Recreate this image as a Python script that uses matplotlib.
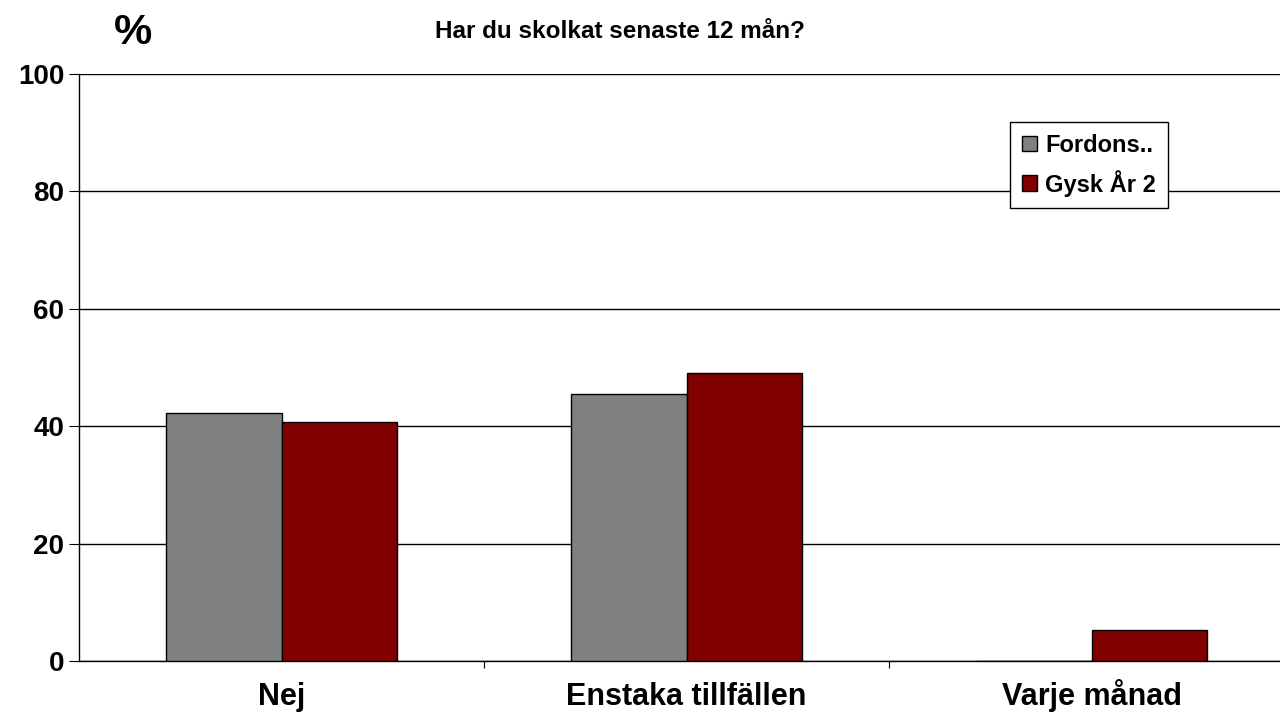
import matplotlib
matplotlib.use("Agg")
import matplotlib.pyplot as plt
import numpy as np

plt.rcParams['font.family'] = ['Liberation Sans', 'DejaVu Sans']
plt.rcParams['font.weight'] = 'bold'

# data
categories = ['Nej', 'Enstaka tillfällen', 'Varje månad']
fordons = [42.3, 45.5, 0]
gysk = [40.7, 49.1, 5.2]
series_names = ['Fordons..', 'Gysk År 2']
yticks = [0, 20, 40, 60, 80, 100]

fig = plt.figure(figsize=(12.8, 7.17), dpi=100)
ax = fig.add_axes([79/1280, 56/717, 1215/1280, 587/717])

x = np.arange(len(categories))
w = 0.286
ax.bar(x - w/2, fordons, w, color='#808080', edgecolor='black', linewidth=1, label=series_names[0], zorder=3)
ax.bar(x + w/2, gysk, w, color='#800000', edgecolor='black', linewidth=1, label=series_names[1], zorder=3)

ax.set_xlim(-0.5, 2.5)
ax.set_ylim(0, 100)
ax.set_yticks(yticks)
ax.set_yticklabels([str(t) for t in yticks], fontsize=20, fontweight='bold')
ax.yaxis.grid(True, color='black', linewidth=1)
ax.set_axisbelow(True)

# ticks on category boundaries, labels in between
ax.set_xticks([0.5, 1.5])
ax.set_xticklabels([])
ax.set_xticks(x, minor=True)
ax.set_xticklabels(categories, minor=True, fontsize=22, fontweight='bold', va='baseline')
ax.tick_params(axis='x', which='minor', length=0, pad=32)
ax.tick_params(axis='x', which='major', length=5, direction='out')
ax.tick_params(axis='y', length=7, direction='out', pad=3.5)

for s in ['top', 'right']:
    ax.spines[s].set_visible(False)
ax.spines['left'].set_linewidth(1)
ax.spines['bottom'].set_linewidth(1)

fig.text(133/1280, 1 - 33/717, '%', fontsize=31, fontweight='bold', ha='center', va='center')
fig.text(620/1280, 1 - 31/717, 'Har du skolkat senaste 12 mån?', fontsize=17.5, fontweight='bold',
         ha='center', va='center')

leg = ax.legend(loc='upper left', bbox_to_anchor=(1010/1280, 1 - 122/717), bbox_transform=fig.transFigure,
                borderaxespad=0, fancybox=False, framealpha=1, edgecolor='black', fontsize=17,
                handlelength=0.65, handleheight=0.65, handletextpad=0.35, borderpad=0.5, labelspacing=0.55)
leg.get_frame().set_linewidth(1)

fig.savefig('out.png', dpi=100)
